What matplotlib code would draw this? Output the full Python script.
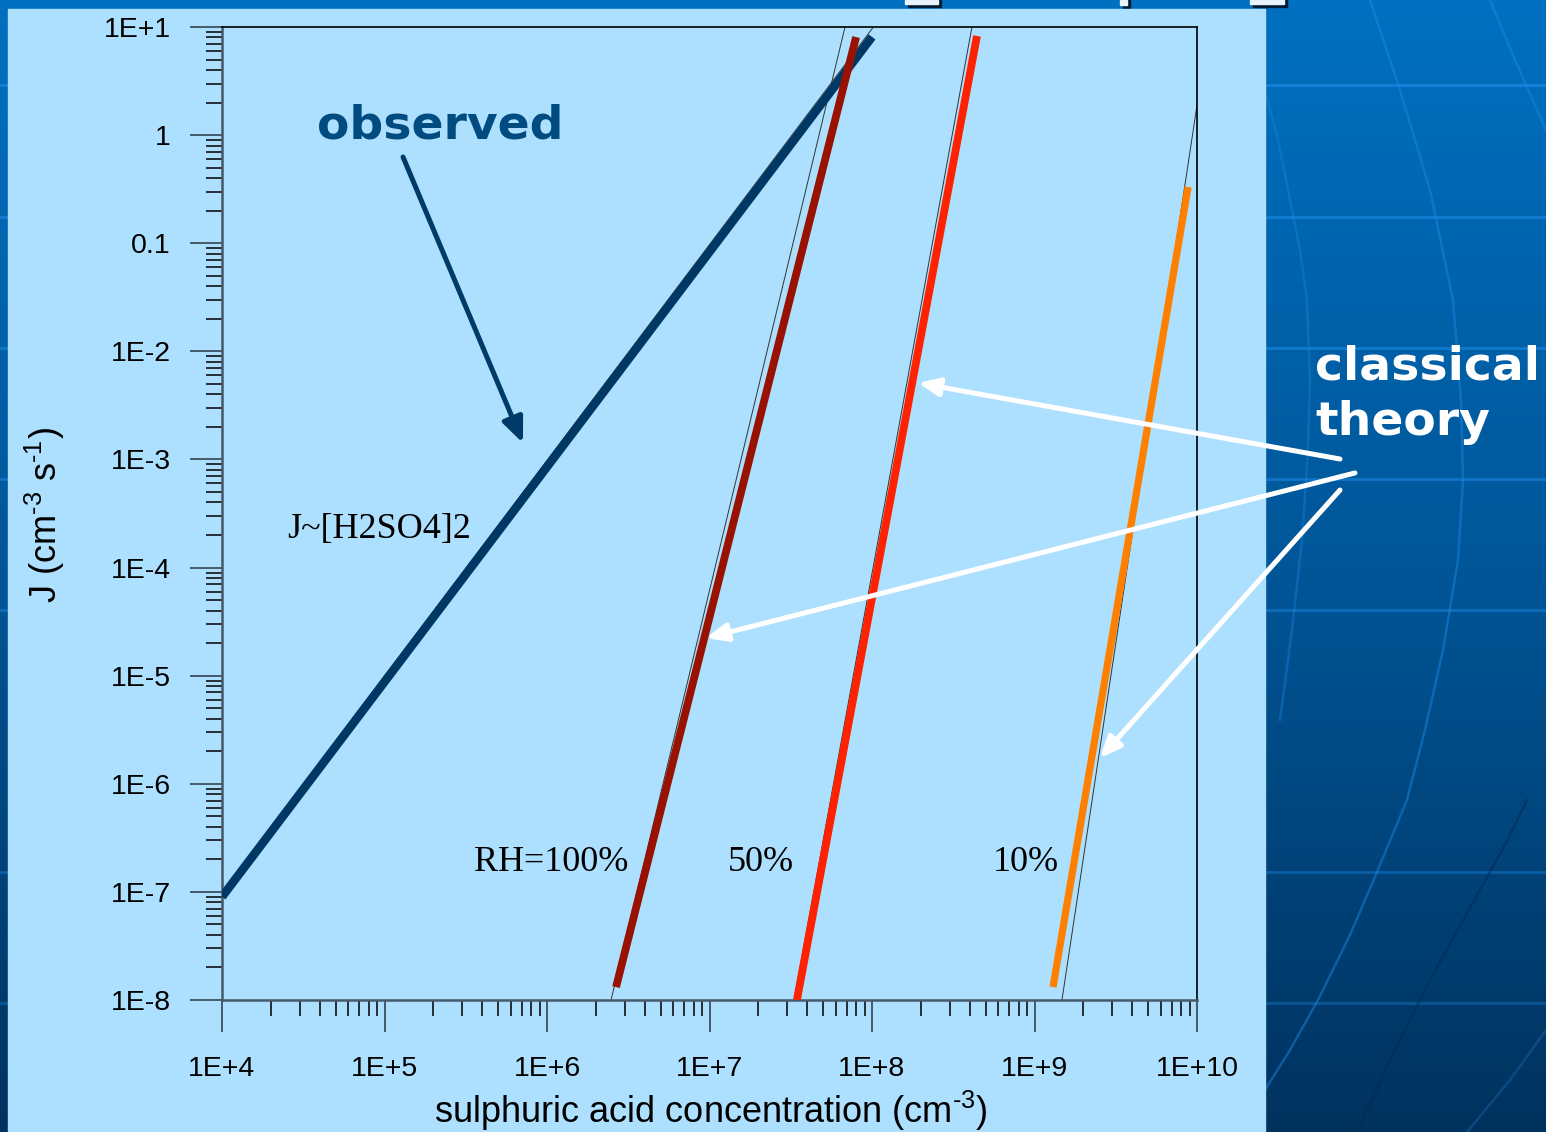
import numpy as np
import matplotlib
matplotlib.use('Agg')
import matplotlib.pyplot as plt
from matplotlib.patches import Rectangle
from matplotlib.ticker import LogLocator, NullFormatter

# ---------------- data ----------------
obs_x = [1e4, 1e8]
obs_y = [9e-8, 8.1]
obs_fit_x = [1e4, 1.02e8]
obs_fit_y = [1e-7, 1e1]

rh100_x = [10**6.425, 10**7.902]
rh100_y = [10**-7.88, 10**0.907]
rh100_fit_x = [10**6.394, 10**7.834]
rh100_fit_y = [1e-8, 1e1]

rh50_x = [10**7.538, 10**8.646]
rh50_y = [1e-8, 10**0.917]
rh50_fit_x = [10**7.52, 10**8.615]
rh50_fit_y = [1e-8, 1e1]

rh10_x = [10**9.114, 10**9.945]
rh10_y = [10**-7.88, 10**-0.48]
rh10_fit_x = [10**9.169, 1e10]
rh10_fit_y = [1e-8, 10**0.278]

x_ticks = [1e4, 1e5, 1e6, 1e7, 1e8, 1e9, 1e10]
x_tick_labels = ['1E+4', '1E+5', '1E+6', '1E+7', '1E+8', '1E+9', '1E+10']
y_ticks = [1e-8, 1e-7, 1e-6, 1e-5, 1e-4, 1e-3, 1e-2, 1e-1, 1e0, 1e1]
y_tick_labels = ['1E-8', '1E-7', '1E-6', '1E-5', '1E-4', '1E-3', '1E-2', '0.1', '1', '1E+1']

rh_labels = ['RH=100%', '50%', '10%']
rh_label_x = [10**5.551, 10**7.114, 10**8.745]
rh_label_y = 10**-6.807

# ---------------- style ----------------
plt.rcParams['font.family'] = ['Liberation Sans', 'DejaVu Sans']
plt.rcParams['mathtext.fontset'] = 'custom'
plt.rcParams['mathtext.rm'] = 'Liberation Sans'
plt.rcParams['mathtext.default'] = 'regular'

W, H = 1546, 1132
fig = plt.figure(figsize=(W / 100, H / 100), dpi=100)

# ---------------- slide background ----------------
bg = fig.add_axes([0, 0, 1, 1], zorder=0)
bg.set_xlim(0, W)
bg.set_ylim(H, 0)
bg.axis('off')
top_c = np.array([0, 112, 192]) / 255
mid_c = np.array([0, 86, 152]) / 255
bot_c = np.array([0, 50, 94]) / 255
t = np.linspace(0, 1, 256)[:, None]
grad = np.where(t < 0.5, top_c + (mid_c - top_c) * (t / 0.5), mid_c + (bot_c - mid_c) * ((t - 0.5) / 0.5))
bg.imshow(grad[:, None, :], extent=[0, W, H, 0], aspect='auto', zorder=0)

for yy, a in zip([85, 217, 348, 479, 610, 872, 1003], [0.7, 0.65, 0.6, 0.55, 0.5, 0.4, 0.35]):
    bg.plot([0, W], [yy, yy], color='#1c8ae6', lw=2.0, alpha=a, zorder=1)
curves = [
    ([1370, 1400, 1430, 1453, 1461, 1463, 1458, 1443, 1425, 1407, 1377, 1350, 1318, 1290, 1265],
     [0, 90, 190, 300, 400, 480, 560, 650, 730, 800, 872, 935, 1000, 1050, 1090], '#1c8ae6', 0.45),
    ([1490, 1515, 1546], [0, 60, 130], '#1c8ae6', 0.45),
    ([1265, 1278, 1290, 1300, 1307, 1310, 1308, 1302, 1292, 1280],
     [90, 140, 200, 250, 300, 380, 450, 540, 630, 720], '#1c8ae6', 0.35),
    ([1527, 1505, 1480, 1455, 1430, 1390, 1357], [800, 845, 890, 935, 980, 1060, 1132], '#002a55', 0.5),
    ([1546, 1510, 1467], [1030, 1080, 1132], '#1c6ab0', 0.4),
]
for cx, cy, cc, ca in curves:
    bg.plot(cx, cy, color=cc, lw=1.8, alpha=ca, zorder=1, solid_joinstyle='round')

# title fragments peeking at the top
for (rx, rw, rh) in [(905, 33, 4), (1120, 7, 5), (1250, 34, 4)]:
    bg.add_patch(Rectangle((rx + 3, 0), rw, rh + 3, color='#001a33', zorder=2))
    bg.add_patch(Rectangle((rx, 0), rw, rh, color='#e8f2fa', zorder=3))

# light panel
bg.add_patch(Rectangle((8, 9), 1257, H - 9, color='#ADE0FE', zorder=2))

# ---------------- main axes ----------------
ax = fig.add_axes([222 / W, 1 - 1000 / H, 975 / W, 973 / H], zorder=1)
ax.set_facecolor('none')
ax.set_xscale('log')
ax.set_yscale('log')
ax.set_xlim(1e4, 1e10)
ax.set_ylim(1e-8, 1e1)

ax.set_xticks(x_ticks)
ax.set_xticklabels(x_tick_labels)
ax.set_yticks(y_ticks)
ax.set_yticklabels(y_tick_labels)
ax.xaxis.set_minor_locator(LogLocator(base=10, subs=np.arange(2, 10), numticks=20))
ax.yaxis.set_minor_locator(LogLocator(base=10, subs=np.arange(2, 10), numticks=20))
ax.xaxis.set_minor_formatter(NullFormatter())
ax.yaxis.set_minor_formatter(NullFormatter())
ax.tick_params(which='major', direction='out', length=23, width=1.4, color='#46596b',
               labelsize=20.5, labelcolor='black', top=False, right=False)
ax.tick_params(which='minor', direction='out', length=11.5, width=1.2, color='#111111',
               top=False, right=False)
ax.tick_params(axis='x', which='major', pad=17)
ax.tick_params(axis='y', which='major', pad=14)
for s in ['left', 'bottom']:
    ax.spines[s].set_color('#46596b')
    ax.spines[s].set_linewidth(1.8)
for s in ['top', 'right']:
    ax.spines[s].set_color('black')
    ax.spines[s].set_linewidth(1.2)

# thin fitted lines
for fx, fy in [(obs_fit_x, obs_fit_y), (rh100_fit_x, rh100_fit_y),
               (rh50_fit_x, rh50_fit_y), (rh10_fit_x, rh10_fit_y)]:
    ax.plot(fx, fy, color='#333333', lw=0.7, zorder=2)

# thick lines
ax.plot(obs_x, obs_y, color='#003865', lw=6.2, solid_capstyle='butt', zorder=3)
ax.plot(rh100_x, rh100_y, color='#991100', lw=5.6, solid_capstyle='butt', zorder=3)
ax.plot(rh50_x, rh50_y, color='#FF2200', lw=5.6, solid_capstyle='butt', zorder=3)
ax.plot(rh10_x, rh10_y, color='#FF8000', lw=5.2, solid_capstyle='butt', zorder=3)

# texts
ax.text(10**4.585, 10**-0.027, 'observed', family='DejaVu Sans', weight='bold',
        fontsize=34, color='#004B7F', va='baseline', ha='left')
ax.text(10**10.726, 10**-2.265, 'classical', family='DejaVu Sans', weight='bold',
        fontsize=34, color='white', va='baseline', ha='left', clip_on=False)
ax.text(10**10.726, 10**-2.774, 'theory', family='DejaVu Sans', weight='bold',
        fontsize=34, color='white', va='baseline', ha='left', clip_on=False)
ax.text(10**4.4, 10**-3.727, 'J~[H2SO4]2', family='Liberation Serif', fontsize=26,
        color='black', va='baseline', ha='left')
for lab, lx in zip(rh_labels, rh_label_x):
    ax.text(lx, rh_label_y, lab, family='Liberation Serif', fontsize=26,
            color='black', va='baseline', ha='left')

# arrows
ax.annotate('', xy=(10**5.852, 10**-2.848), xytext=(10**5.114, 10**-0.2025),
            arrowprops=dict(arrowstyle='-|>,head_length=0.75,head_width=0.32', mutation_scale=20,
                            lw=3.6, color='#003A68', shrinkA=0, shrinkB=0),
            annotation_clip=False)
for (tx, ty), (sx, sy) in [((10**8.283, 10**-2.293), (10**10.880, 10**-2.996)),
                           ((10**6.978, 10**-4.652), (10**10.972, 10**-3.125)),
                           ((10**9.403, 10**-5.762), (10**10.880, 10**-3.283))]:
    ax.annotate('', xy=(tx, ty), xytext=(sx, sy),
                arrowprops=dict(arrowstyle='-|>,head_length=0.7,head_width=0.3', mutation_scale=18,
                                lw=3.6, color='white', shrinkA=0, shrinkB=0),
                annotation_clip=False)

# axis titles (hyphen superscripts as in the original)
fig.text(45 / W, 1 - 515 / H, 'J (cm$^{\u20103}$ s$^{\u20101}$)', rotation=90, ha='center', va='center',
         fontsize=26, color='black')
fig.text(710.5 / W, 1 - 1123 / H, 'sulphuric acid concentration (cm$^{\u20103}$)', ha='center',
         va='baseline', fontsize=26, color='black')

fig.savefig('out.png', dpi=100)
